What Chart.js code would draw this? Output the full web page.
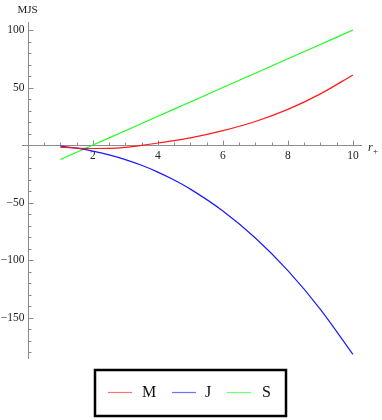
<!DOCTYPE html>
<html>
<head>
<meta charset="utf-8">
<script src="https://cdn.jsdelivr.net/npm/chart.js@4.4.1/dist/chart.umd.min.js"></script>
<style>
  body { margin: 0; background: #fff; }
  canvas { display: block; }
</style>
</head>
<body>
<canvas id="mjsChart" width="382" height="420"></canvas>
<script>
const rValues = [1, 1.5, 2, 2.5, 3, 3.5, 4, 4.5, 5, 6, 7, 8, 9, 10];
const mValues = [-1.8, -2.6, -3, -2.9, -2, -0.3, 1.8, 3.8, 6.2, 12.5, 20.5, 31, 44.5, 61];
const jValues = [-1, -2.7, -5.2, -8.5, -12.6, -17.6, -23.5, -30.4, -38.3, -57.3, -80.8, -109.2, -142.8, -182];
const sValues = [-12.5, -6.25, 0, 6.25, 12.5, 18.75, 25, 31.25, 37.5, 50, 62.5, 75, 87.5, 100];
const xTicks = [2, 4, 6, 8, 10];
const yTicks = [100, 50, -50, -100, -150];

const toPoints = (ys) => ys.map((y, i) => ({ x: rValues[i], y: y }));

const serif = '"Liberation Serif", "DejaVu Serif", serif';

// axes through the origin, Mathematica style
const axesPlugin = {
  id: "axes",
  beforeDatasetsDraw(chart) {
    const ctx = chart.ctx;
    const xs = chart.scales.x;
    const ys = chart.scales.y;
    const x0 = Math.round(xs.getPixelForValue(0)) + 0.5;
    const y0 = Math.round(ys.getPixelForValue(0)) + 0.5;
    ctx.save();
    ctx.strokeStyle = "#8c8c8c";
    ctx.lineWidth = 1;
    ctx.beginPath();
    ctx.moveTo(xs.left, y0);
    ctx.lineTo(xs.right, y0);
    ctx.moveTo(x0, ys.top);
    ctx.lineTo(x0, ys.bottom);
    // x ticks every 0.5, major every 2
    for (let v = 0.5; v <= xs.max; v += 0.5) {
      const px = Math.round(xs.getPixelForValue(v)) + 0.5;
      const len = v % 2 === 0 ? 5 : 3;
      ctx.moveTo(px, y0);
      ctx.lineTo(px, y0 - len);
    }
    // y ticks every 10, major every 50
    for (let v = Math.ceil(ys.min / 10) * 10; v <= ys.max; v += 10) {
      if (v === 0) continue;
      const py = Math.round(ys.getPixelForValue(v)) + 0.5;
      const len = v % 50 === 0 ? 5 : 3;
      ctx.moveTo(x0, py);
      ctx.lineTo(x0 + len, py);
    }
    ctx.stroke();

    ctx.fillStyle = "#222";
    ctx.font = "11.5px " + serif;
    ctx.textAlign = "center";
    ctx.textBaseline = "middle";
    xTicks.forEach((v) => ctx.fillText(String(v), xs.getPixelForValue(v), y0 + 10));
    ctx.textAlign = "right";
    yTicks.forEach((v) => {
      const t = v < 0 ? "\u2212" + Math.abs(v) : String(v);
      ctx.fillText(t, x0 - 4, ys.getPixelForValue(v));
    });

    // axis labels
    ctx.textAlign = "center";
    ctx.font = "11px " + serif;
    ctx.fillText("MJS", x0 - 1, 10);
    ctx.textAlign = "left";
    ctx.font = "italic 12px " + serif;
    ctx.fillText("r", 368, y0 + 2);
    ctx.font = "9px " + serif;
    ctx.fillText("+", 373, y0 + 6);
    ctx.restore();
  },
  afterDraw(chart) {
    const ctx = chart.ctx;
    ctx.save();
    ctx.strokeStyle = "#000";
    ctx.lineWidth = 2.5;
    ctx.strokeRect(95, 370, 191, 46);
    const items = [
      { x: 108, tx: 142 },
      { x: 172, tx: 205 },
      { x: 227, tx: 262 }
    ];
    ctx.font = "16px " + serif;
    ctx.textBaseline = "middle";
    ctx.textAlign = "left";
    chart.data.datasets.forEach((ds, i) => {
      ctx.strokeStyle = ds.legendColor;
      ctx.lineWidth = 1.2;
      ctx.beginPath();
      ctx.moveTo(items[i].x, 392.5);
      ctx.lineTo(items[i].x + 24, 392.5);
      ctx.stroke();
      ctx.fillStyle = "#111";
      ctx.fillText(ds.label, items[i].tx, 393);
    });
    ctx.restore();
  }
};

new Chart(document.getElementById("mjsChart").getContext("2d"), {
  type: "line",
  data: {
    datasets: [
      { label: "M", data: toPoints(mValues), borderColor: "#ff1a1a", legendColor: "#ff7070" },
      { label: "J", data: toPoints(jValues), borderColor: "#1a1aff", legendColor: "#7070ff" },
      { label: "S", data: toPoints(sValues), borderColor: "#1aff1a", legendColor: "#70ff70" }
    ]
  },
  options: {
    responsive: false,
    animation: false,
    layout: { padding: { left: 22, right: 20, top: 22, bottom: 61 } },
    elements: {
      point: { radius: 0 },
      line: { borderWidth: 1.2, cubicInterpolationMode: "monotone", fill: false }
    },
    plugins: { legend: { display: false }, tooltip: { enabled: false } },
    scales: {
      x: { type: "linear", min: -0.18, max: 10.28, display: false },
      y: { type: "linear", min: -186, max: 107, display: false }
    }
  },
  plugins: [axesPlugin]
});
</script>
</body>
</html>
